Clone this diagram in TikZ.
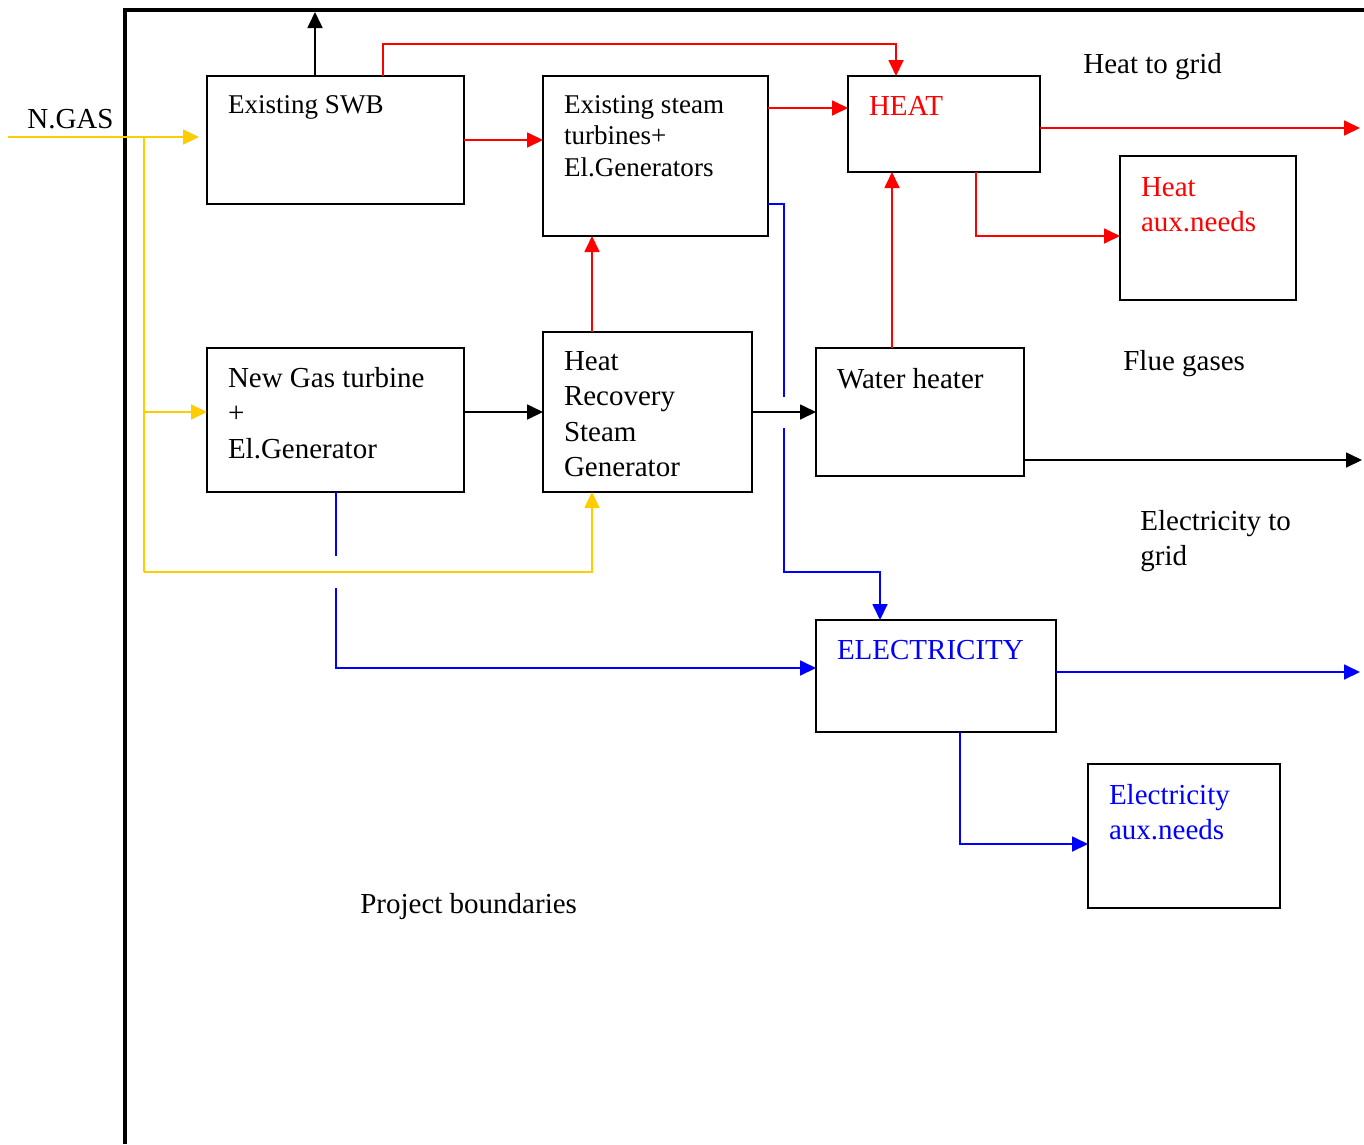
\documentclass[tikz,border=0pt]{standalone}
\usepackage{fontspec}
\setmainfont{Liberation Serif}
\usetikzlibrary{arrows.meta}

\definecolor{gasyel}{RGB}{255,204,0}
\newlength\pxu
\setlength\pxu{0.2mm}
\newcommand\bigtxt{\fontsize{16.5}{20.2}\selectfont}
\newcommand\smltxt{\fontsize{15.4}{18.2}\selectfont}
% text of a box: height, width, first baseline, lines
\newcommand\boxtxt[4]{\parbox[t][#1\pxu][t]{#2\pxu}{\raggedright\rule{0pt}{#3\pxu}#4}}

\begin{document}
\begin{tikzpicture}[x=0.2mm, y=-0.2mm,
  blk/.style={draw, line width=1.1pt, anchor=north west, inner xsep=4.2mm,
    inner ysep=0pt, outer sep=0pt, font=\bigtxt},
  lbl/.style={anchor=base west, inner sep=0pt, font=\bigtxt},
  tip/.style={-{Triangle[length=3.2mm, width=3mm]}},
  flow/.style={tip, black, line width=1pt},
  hflow/.style={tip, red, line width=1pt},
  eflow/.style={tip, blue, line width=1pt},
  elink/.style={blue, line width=1pt},
  gflow/.style={tip, gasyel, line width=1pt},
  glink/.style={gasyel, line width=1pt}]
  \useasboundingbox (0,0) rectangle (1364,1144);

  % project boundary
  \draw[line width=2.2pt] (125,1144) -- (125,10) -- (1364,10);

  % boxes
  \node[blk, font=\smltxt] (swb) at (207,76) {\boxtxt{128}{215}{37}{Existing SWB}};
  \node[blk, font=\smltxt] (est) at (543,76) {\boxtxt{160}{183}{37}{Existing steam\\turbines+\\El.Generators}};
  \node[blk, text=red] (heat) at (848,76) {\boxtxt{96}{150}{39}{HEAT}};
  \node[blk, text=red] (haux) at (1120,156) {\boxtxt{144}{134}{40}{Heat\\aux.needs}};
  \node[blk] (ngt) at (207,348) {\boxtxt{144}{215}{39}{New Gas turbine\\+\\El.Generator}};
  \node[blk] (hrsg) at (543,332) {\boxtxt{160}{167}{38}{Heat\\Recovery\\Steam\\Generator}};
  \node[blk] (wh) at (816,348) {\boxtxt{128}{166}{40}{Water heater}};
  \node[blk, text=blue] (elec) at (816,620) {\boxtxt{112}{198}{39}{ELECTRICITY}};
  \node[blk, text=blue] (eaux) at (1088,764) {\boxtxt{144}{150}{40}{Electricity\\aux.needs}};

  % free labels
  \node[lbl] (ngas) at (27,128) {N.GAS};
  \node[lbl] (hgrid) at (1083,73) {Heat to grid};
  \node[lbl] (flue) at (1123,370) {Flue gases};
  \node[lbl] (egrid) at (1140,530) {\parbox[t]{60mm}{Electricity to\\grid}};
  \node[lbl] (bound) at (360,913) {Project boundaries};

  % natural gas
  \coordinate (gasin) at (8,137);
  \draw[gflow, shorten >=1.6mm] (gasin) -- (gasin -| swb.west);
  \draw[glink] (144,137) -- (144,572);
  \draw[gflow] (144,412) -- (ngt.west |- 0,412);
  \draw[gflow] (144,572) -| (hrsg.south -| 592,0);

  % black flows
  \draw[flow] (swb.north -| 315,0) -- (315,12);
  \draw[flow] (ngt.east |- 0,412) -- (hrsg.west |- 0,412);
  \draw[flow] (hrsg.east |- 0,412) -- (wh.west |- 0,412);
  \draw[flow] (wh.east |- 0,460) -- (1362,460);

  % heat
  \draw[hflow] (swb.north -| 383,0) -- (383,44) -| (heat.north -| 896,0);
  \draw[hflow] (swb.east |- 0,140) -- (est.west |- 0,140);
  \draw[hflow] (est.east |- 0,108) -- (heat.west |- 0,108);
  \draw[hflow] (heat.east |- 0,128) -- (1360,128);
  \draw[hflow] (heat.south -| 976,0) |- (haux.west |- 0,236);
  \draw[hflow] (hrsg.north -| 592,0) -- (est.south -| 592,0);
  \draw[hflow] (wh.north -| 892,0) -- (heat.south -| 892,0);

  % electricity (broken where it crosses)
  \draw[elink] (est.east |- 0,204) -- (784,204) -- (784,397);
  \draw[eflow] (784,428) -- (784,572) -| (elec.north -| 880,0);
  \draw[elink] (ngt.south -| 336,0) -- (336,556);
  \draw[eflow] (336,588) |- (elec.west |- 0,668);
  \draw[eflow] (elec.east |- 0,672) -- (1360,672);
  \draw[eflow] (elec.south -| 960,0) |- (eaux.west |- 0,844);
\end{tikzpicture}
\end{document}
